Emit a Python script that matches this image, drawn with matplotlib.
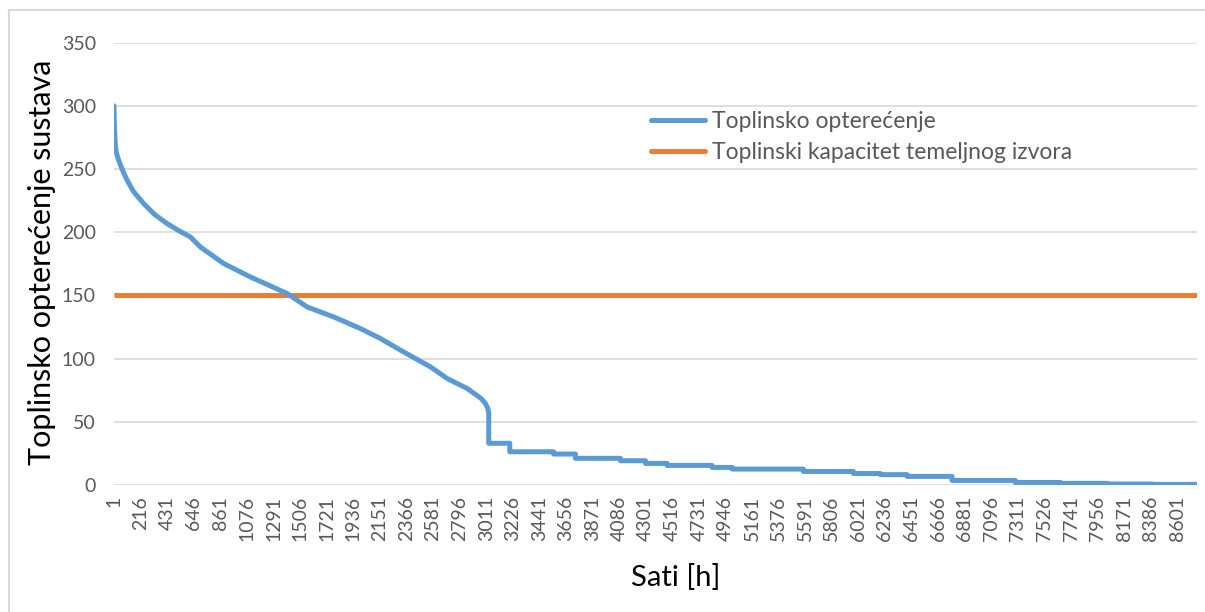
import numpy as np
import matplotlib
matplotlib.use("Agg")
import matplotlib.pyplot as plt
from matplotlib.lines import Line2D

plt.rcParams['font.family'] = ['Lato', 'DejaVu Sans']

# krivulja trajanja toplinskog opterecenja (procitano sa slike)
sati = [1, 3, 8, 13, 20, 35, 54, 80, 108, 160, 242, 330, 431, 530, 620, 700, 889, 1105, 1402, 1563, 1778, 1994,
        2156, 2318, 2560, 2695, 2857, 2970, 3005, 3024, 3032, 3032, 3202, 3202,
        3557, 3557, 3733, 3733, 4097, 4097, 4299, 4299, 4474, 4474, 4838, 4838,
        5000, 5000, 5577, 5577, 5981, 5981, 6199, 6199, 6415, 6415, 6779, 6779,
        7291, 7291, 7655, 7655, 8032, 8032, 8396, 8396, 8760]
opterecenje = [300, 288, 275, 268, 263, 258, 253, 247, 241, 232, 222.6, 214, 206.8, 201, 196.2, 188.3, 175.2, 164.6, 151.5, 140.9, 133, 123.8,
               115.9, 106.7, 93.5, 84.3, 76.4, 68.5, 64.5, 60.6, 57, 33, 33, 26.3,
               26.3, 24.5, 24.5, 21.1, 21.1, 19.2, 19.2, 17.1, 17.1, 15.5, 15.5, 13.9,
               13.9, 12.6, 12.6, 10.7, 10.7, 9.1, 9.1, 8.2, 8.2, 6.8, 6.8, 3.6,
               3.6, 2.0, 2.0, 1.3, 1.3, 0.8, 0.8, 0.5, 0.5]

kapacitet_sati = [1, 8760]
kapacitet = [150, 150]

x_ticks = [1, 216, 431, 646, 861, 1076, 1291, 1506, 1721, 1936, 2151, 2366, 2581, 2796,
           3011, 3226, 3441, 3656, 3871, 4086, 4301, 4516, 4731, 4946, 5161, 5376, 5591,
           5806, 6021, 6236, 6451, 6666, 6881, 7096, 7311, 7526, 7741, 7956, 8171, 8386, 8601]
y_ticks = [0, 50, 100, 150, 200, 250, 300, 350]

blue = '#5B9BD5'
orange = '#ED7D31'
grid = '#D9D9D9'
txt = '#595959'

W, H = 1205, 612
fig = plt.figure(figsize=(W / 100, H / 100), dpi=100)
ax = fig.add_axes([114 / W, 1 - 485 / H, (1197 - 114) / W, (485 - 42.7) / H])

ax.plot(sati, opterecenje, color=blue, lw=3.6, solid_capstyle='round', solid_joinstyle='round', zorder=3)
ax.plot(kapacitet_sati, kapacitet, color=orange, lw=3.6, solid_capstyle='butt', zorder=2)

ax.set_xlim(1, 8760)
ax.set_ylim(0, 350)
ax.set_yticks(y_ticks)
ax.set_xticks(x_ticks)
ax.set_xticklabels([str(t) for t in x_ticks], rotation=90)
ax.tick_params(axis='y', length=0, pad=13, labelsize=14, labelcolor=txt)
ax.tick_params(axis='x', length=0, pad=8, labelsize=14, labelcolor=txt)
ax.grid(axis='y', color=grid, lw=1.2)
ax.set_axisbelow(True)
for s in ax.spines.values():
    s.set_visible(False)

fig.text(42 / W, 1 - 262 / H, 'Toplinsko opterećenje sustava', rotation=90,
         ha='center', va='center', fontsize=22, color='black')
fig.text(676 / W, 1 - 578 / H, 'Sati [h]', ha='center', va='center', fontsize=21, color='black')

handles = [Line2D([], [], color=blue, lw=3.6, solid_capstyle='round'),
           Line2D([], [], color=orange, lw=3.6, solid_capstyle='round')]
fig.legend(handles, ['Toplinsko opterećenje', 'Toplinski kapacitet temeljnog izvora'],
           loc='upper left', bbox_to_anchor=(651 / W, 1 - 111 / H), frameon=False,
           fontsize=16.5, labelcolor=txt, handlelength=2.35, handletextpad=0.3,
           labelspacing=0.42, borderpad=0, borderaxespad=0)

# okvir grafikona
fig.add_artist(Line2D([8.5 / W, 8.5 / W], [0, 1 - 10 / H], color=grid, lw=1.5))
fig.add_artist(Line2D([8.5 / W, 1], [1 - 10 / H, 1 - 10 / H], color=grid, lw=1.5))

fig.savefig('out.png', dpi=100)
